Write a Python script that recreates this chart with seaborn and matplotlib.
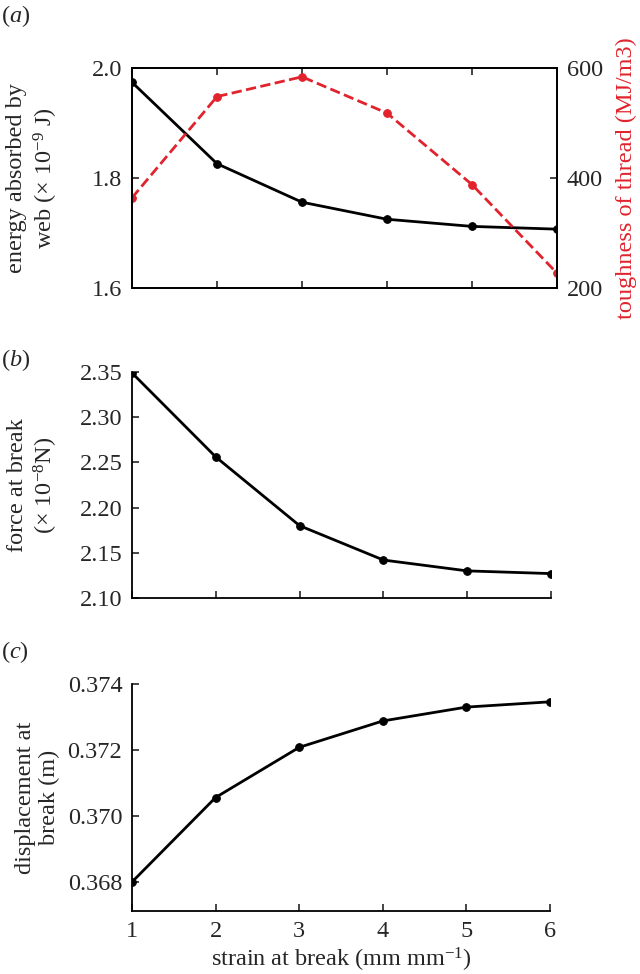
import numpy as np
import pandas as pd
import matplotlib
matplotlib.use("Agg")
import matplotlib.pyplot as plt
import seaborn as sns

# ---- data ----
strain = [1, 2, 3, 4, 5, 6]
energy = [1.974, 1.826, 1.756, 1.725, 1.712, 1.707]
toughness = [364, 548, 584, 518, 388, 227]
force = [2.349, 2.256, 2.180, 2.142, 2.130, 2.127]
displacement = [0.3680, 0.37056, 0.37208, 0.37288, 0.37330, 0.37346]

energy_ticks = [1.6, 1.8, 2.0]
tough_ticks = [200, 400, 600]
force_ticks = [2.10, 2.15, 2.20, 2.25, 2.30, 2.35]
disp_ticks = [0.368, 0.370, 0.372, 0.374]

sns.set_style("ticks", rc={"xtick.direction": "in", "ytick.direction": "in"})
plt.rcParams["font.family"] = "serif"
plt.rcParams["font.serif"] = ["Liberation Serif", "DejaVu Serif"]
plt.rcParams["mathtext.fontset"] = "custom"
plt.rcParams["mathtext.rm"] = "Liberation Serif"
plt.rcParams["mathtext.it"] = "Liberation Serif:italic"
plt.rcParams["axes.linewidth"] = 1.3
plt.rcParams["axes.edgecolor"] = "black"

FS = 17.5
LS = 1.2
RED = "#e0232c"
W, H = 640, 974
fig = plt.figure(figsize=(W / 100, H / 100), dpi=100)

def box(l, r, t, b):
    return [l / W, 1 - b / H, (r - l) / W, (b - t) / H]

axa = fig.add_axes(box(132, 557, 68, 288))
axb = fig.add_axes(box(132, 551, 372, 598))
axc = fig.add_axes(box(132, 550, 684, 911))

df = pd.DataFrame({"strain": strain, "energy": energy, "toughness": toughness,
                   "force": force, "displacement": displacement})

line_kw = dict(color="black", lw=2, marker="o", markersize=5.5,
               markeredgecolor="black", markerfacecolor="black")

# panel a
sns.lineplot(data=df, x="strain", y="energy", ax=axa, **line_kw)
axa2 = axa.twinx()
sns.lineplot(data=df, x="strain", y="toughness", ax=axa2, color=RED, lw=2,
             linestyle="--", marker="o", markersize=5.5, markeredgecolor=RED,
             markerfacecolor=RED)
axa.set_ylim(1.6, 2.0)
axa.set_yticks(energy_ticks)
axa.set_yticklabels([f"{v:.1f}" for v in energy_ticks])
axa2.set_ylim(200, 600)
axa2.set_yticks(tough_ticks)
axa2.set_yticklabels([str(v) for v in tough_ticks])
axa.set_xlim(1, 6)
axa.set_xticks(strain)
axa.set_xticklabels([])
axa.tick_params(top=True, bottom=True, labelsize=FS, length=5, width=1.2,
                pad=7, direction="in")
axa2.tick_params(labelsize=FS, length=5, width=1.2, pad=7, direction="in")
for s in axa.spines.values():
    s.set_visible(True)
    s.set_linewidth(1.3)
for s in axa2.spines.values():
    s.set_linewidth(1.3)
axa.set_xlabel("")
axa.set_ylabel("energy absorbed by\nweb (\u00d7 10$^{-9}$ J)", fontsize=FS,
               linespacing=LS)
axa.yaxis.set_label_coords(-0.17, 0.5)
axa2.set_ylabel("toughness of thread (MJ/m3)", fontsize=FS, color=RED,
                rotation=90, labelpad=9)

# panel b
sns.lineplot(data=df, x="strain", y="force", ax=axb, **line_kw)
axb.set_xlim(1, 6)
axb.set_ylim(2.10, 2.35)
axb.set_yticks(force_ticks)
axb.set_yticklabels([f"{v:.2f}" for v in force_ticks])
axb.set_xticks(strain)
axb.set_xticklabels([])
axb.set_xlabel("")
axb.set_ylabel("force at break\n(\u00d7 10$^{-8}$N)", fontsize=FS, linespacing=LS)
axb.yaxis.set_label_coords(-0.172, 0.5)
sns.despine(ax=axb)
axb.tick_params(labelsize=FS, length=5, width=1.2, pad=7, direction="in")

# panel c
sns.lineplot(data=df, x="strain", y="displacement", ax=axc, **line_kw)
axc.set_xlim(1, 6)
axc.set_ylim(0.36712, 0.374)
axc.set_yticks(disp_ticks)
axc.set_yticklabels([f"{v:.3f}" for v in disp_ticks])
axc.set_xticks(strain)
axc.set_xticklabels([str(v) for v in strain])
axc.set_xlabel("strain at break (mm mm$^{-1}$)", fontsize=FS, labelpad=3)
axc.set_ylabel("displacement at\nbreak (m)", fontsize=FS, linespacing=LS)
axc.yaxis.set_label_coords(-0.172, 0.5)
sns.despine(ax=axc)
axc.tick_params(labelsize=FS, length=5, width=1.2, pad=7, direction="in")

for ax in (axb, axc):
    for s in ax.spines.values():
        s.set_linewidth(1.3)

# panel letters
for lab, ypx in (("a", 16), ("b", 360), ("c", 652)):
    fig.text(1 / W, 1 - ypx / H, "(" + "$\\it{" + lab + "}$" + ")", fontsize=FS,
             ha="left", va="center")

fig.savefig("out.png", dpi=100)
